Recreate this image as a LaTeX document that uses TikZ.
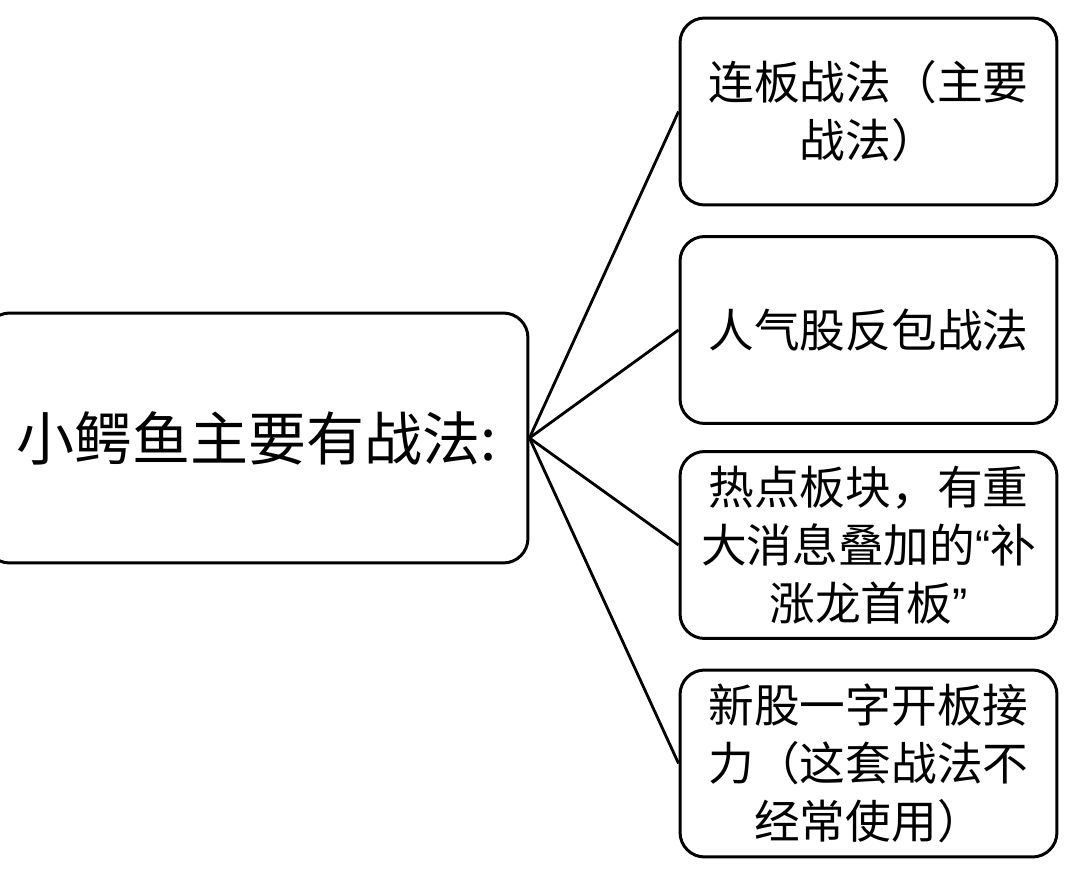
\documentclass[tikz,border=0pt]{standalone}
\usepackage{fontspec}
\newfontfamily\cjk{Noto Sans CJK SC}
\newfontfamily\latn{Liberation Sans}
\usetikzlibrary{positioning}

\begin{document}
\begin{tikzpicture}[x=0.02cm,y=-0.02cm,
box/.style = {draw, line width=1.7pt, rounded corners=14pt, align=center,
	font=\cjk\fontsize{26}{33}\selectfont},
root/.style = {box, minimum width=10.86cm, minimum height=5cm,
	font=\cjk\fontsize{33}{39}\selectfont},
leaf/.style = {box, minimum width=7.54cm, minimum height=3.74cm},
line/.style ={draw, line width=1.6pt}]
\useasboundingbox (0,0) rectangle (1092,872);

\node [root] (root) at (256.5,438) {小鳄鱼主要有战法:};
\node [leaf] (lianban) at (868.5,111.5) {连板战法（主要\\战法）};
\node [leaf] (fanbao) at (868.5,330) {人气股反包战法};
\node [leaf] (redian) at (868.5,545) {热点板块，有重\\大消息叠加的{\latn“}补\\涨龙首板{\latn”}};
\node [leaf] (xingu) at (868.5,763.5) {新股一字开板接\\力（这套战法不\\经常使用）};

\begin{scope}[every path/.style=line]
\foreach \n in {lianban,fanbao,redian,xingu}
	\path (root.east) -- (\n.west);
\end{scope}

\end{tikzpicture}
\end{document}
